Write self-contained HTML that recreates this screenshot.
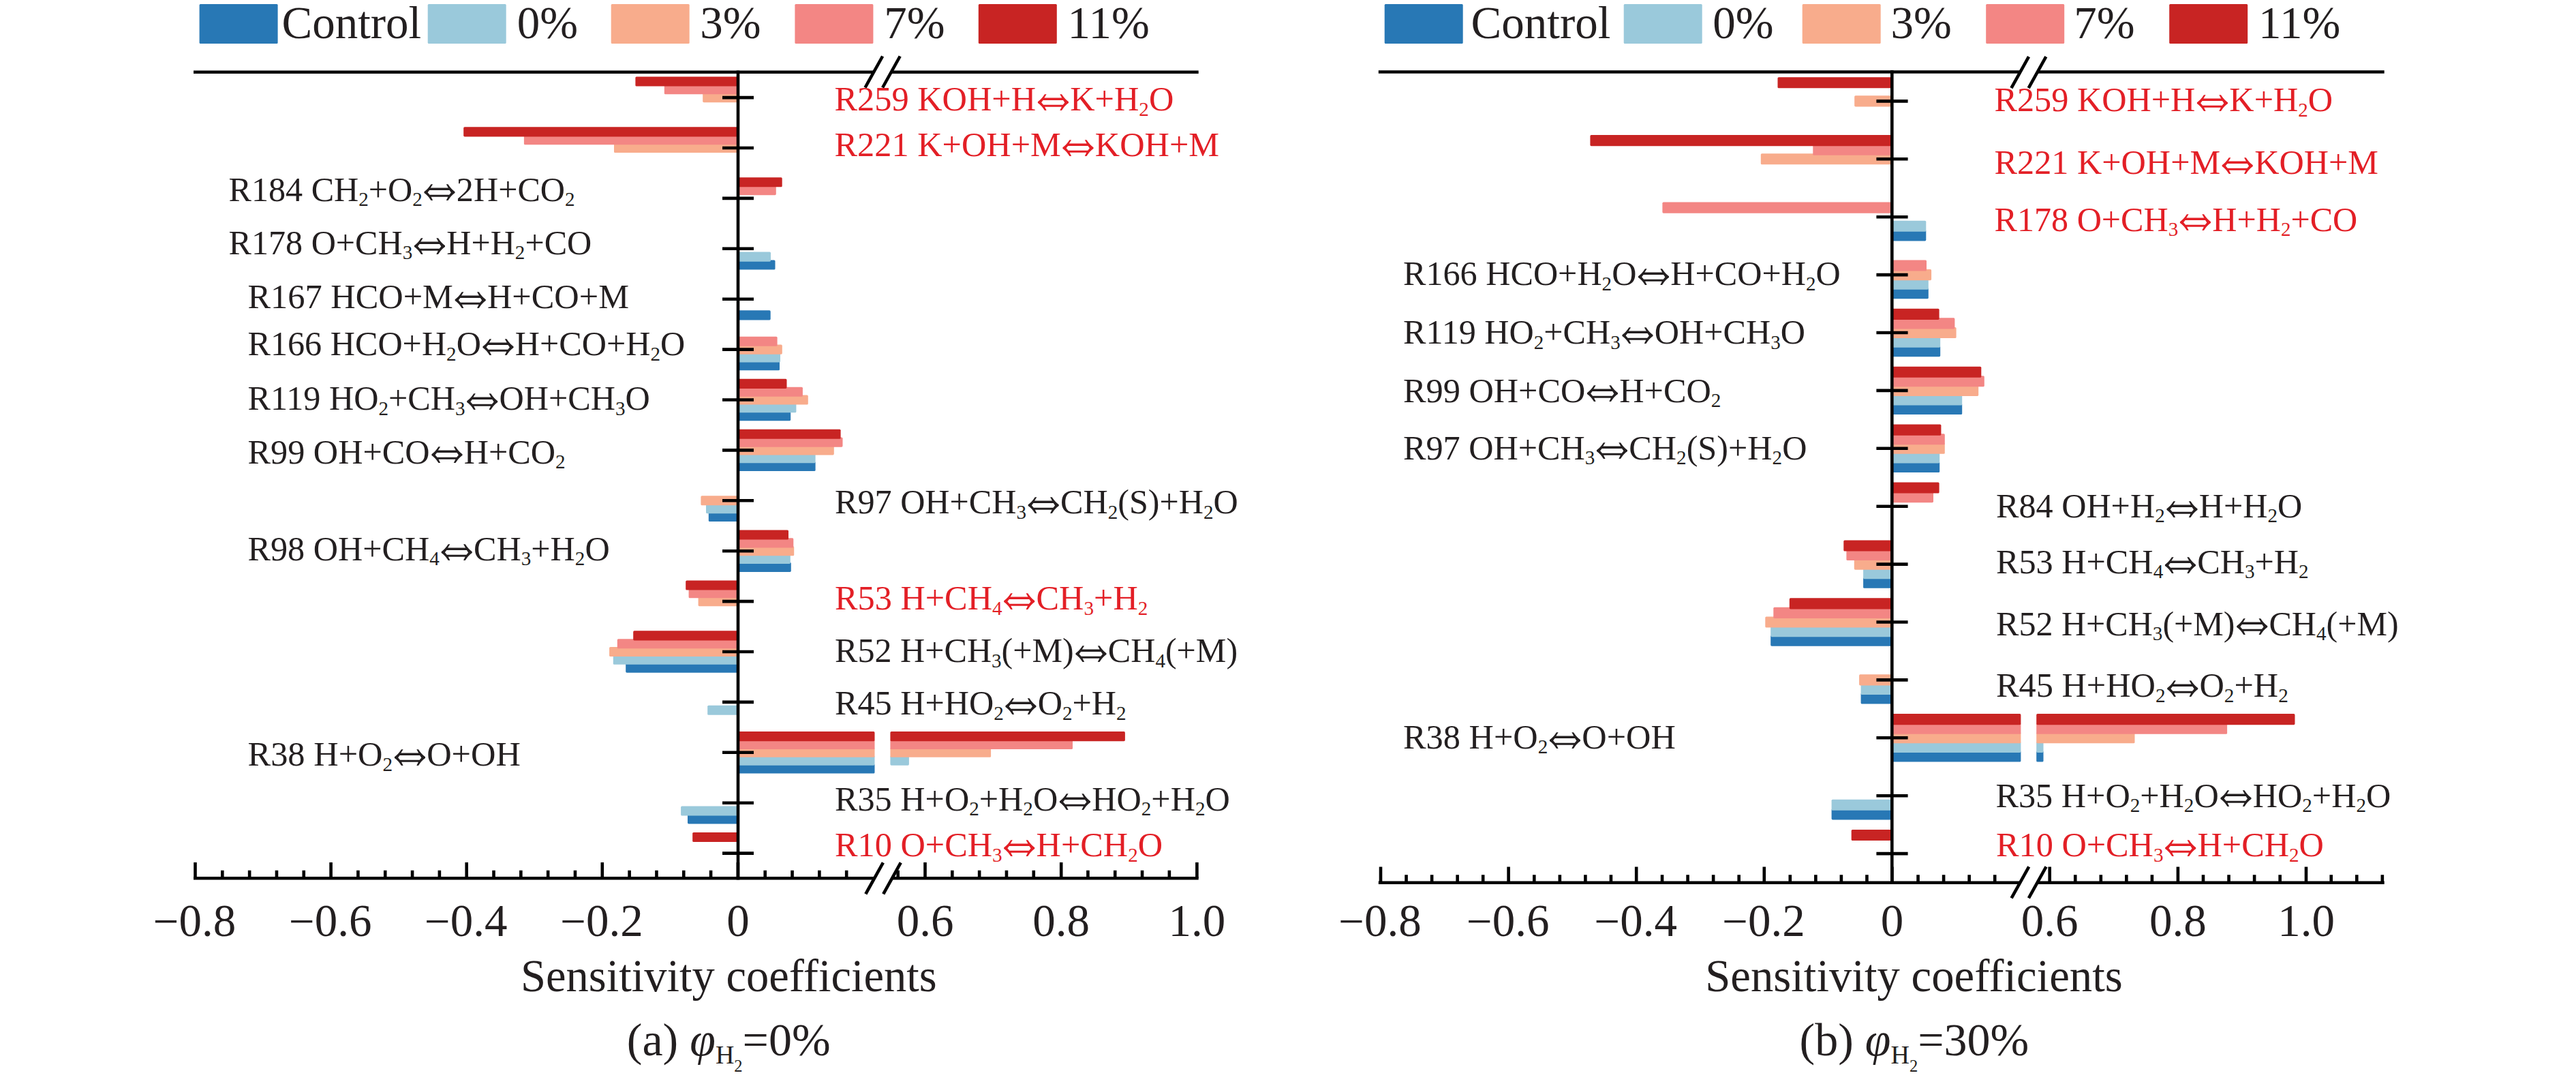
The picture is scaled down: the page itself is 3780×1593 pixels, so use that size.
<!DOCTYPE html>
<html lang="en"><head><meta charset="utf-8"><title>Sensitivity coefficients</title>
<style>
html,body{margin:0;padding:0;background:#fff}
svg{display:block;font-family:"Liberation Serif","DejaVu Serif",serif}
.s{font-size:29px}
</style></head><body>
<svg width="3780" height="1593" viewBox="0 0 3780 1593">
<rect width="3780" height="1593" fill="#fff"/>

<g font-size="67" fill="#231f20">
<rect x="292.6" y="6" width="115" height="58" rx="1.5" fill="#2878b5"/>
<text x="413.5" y="56">Control</text>
<rect x="627.7" y="6" width="115" height="58" rx="1.5" fill="#9ac9db"/>
<text x="758.8" y="56">0%</text>
<rect x="896.7" y="6" width="115" height="58" rx="1.5" fill="#f8ac8c"/>
<text x="1027.3" y="56">3%</text>
<rect x="1166.4" y="6" width="115" height="58" rx="1.5" fill="#f38684"/>
<text x="1297.2" y="56">7%</text>
<rect x="1435.8" y="6" width="115" height="58" rx="1.5" fill="#c82423"/>
<text x="1566.5" y="56">11%</text>
</g>
<g font-size="67" fill="#231f20">
<rect x="2031.7" y="6" width="115" height="58" rx="1.5" fill="#2878b5"/>
<text x="2158.6" y="56">Control</text>
<rect x="2382.7" y="6" width="115" height="58" rx="1.5" fill="#9ac9db"/>
<text x="2513.2" y="56">0%</text>
<rect x="2644.7" y="6" width="115" height="58" rx="1.5" fill="#f8ac8c"/>
<text x="2774.6" y="56">3%</text>
<rect x="2914.2" y="6" width="115" height="58" rx="1.5" fill="#f38684"/>
<text x="3043.2" y="56">7%</text>
<rect x="3183.2" y="6" width="115" height="58" rx="1.5" fill="#c82423"/>
<text x="3314" y="56">11%</text>
</g>
<g>
<rect x="1031.2" y="136.05" width="51.8" height="14.1" rx="1.6" fill="#f8ac8c"/>
<rect x="974.8" y="124.23" width="108.2" height="14.1" rx="1.6" fill="#f38684"/>
<rect x="932.4" y="112.41" width="150.6" height="14.1" rx="1.6" fill="#c82423"/>
<rect x="901" y="209.95" width="182" height="14.1" rx="1.6" fill="#f8ac8c"/>
<rect x="768.9" y="198.13" width="314.1" height="14.1" rx="1.6" fill="#f38684"/>
<rect x="680.2" y="186.31" width="402.8" height="14.1" rx="1.6" fill="#c82423"/>
<rect x="1083" y="272.03" width="55.8" height="14.1" rx="1.6" fill="#f38684"/>
<rect x="1083" y="260.21" width="64.7" height="14.1" rx="1.6" fill="#c82423"/>
<rect x="1083" y="381.39" width="54.5" height="14.1" rx="1.6" fill="#2878b5"/>
<rect x="1083" y="369.57" width="48" height="14.1" rx="1.6" fill="#9ac9db"/>
<rect x="1083" y="455.29" width="47.7" height="14.1" rx="1.6" fill="#2878b5"/>
<rect x="1083" y="529.19" width="61" height="14.1" rx="1.6" fill="#2878b5"/>
<rect x="1083" y="517.37" width="62" height="14.1" rx="1.6" fill="#9ac9db"/>
<rect x="1083" y="505.55" width="64.8" height="14.1" rx="1.6" fill="#f8ac8c"/>
<rect x="1083" y="493.73" width="57.6" height="14.1" rx="1.6" fill="#f38684"/>
<rect x="1083" y="603.09" width="77.2" height="14.1" rx="1.6" fill="#2878b5"/>
<rect x="1083" y="591.27" width="85.4" height="14.1" rx="1.6" fill="#9ac9db"/>
<rect x="1083" y="579.45" width="102.8" height="14.1" rx="1.6" fill="#f8ac8c"/>
<rect x="1083" y="567.63" width="94.9" height="14.1" rx="1.6" fill="#f38684"/>
<rect x="1083" y="555.81" width="71.5" height="14.1" rx="1.6" fill="#c82423"/>
<rect x="1083" y="676.99" width="113.6" height="14.1" rx="1.6" fill="#2878b5"/>
<rect x="1083" y="665.17" width="113.6" height="14.1" rx="1.6" fill="#9ac9db"/>
<rect x="1083" y="653.35" width="140.8" height="14.1" rx="1.6" fill="#f8ac8c"/>
<rect x="1083" y="641.53" width="153.5" height="14.1" rx="1.6" fill="#f38684"/>
<rect x="1083" y="629.71" width="150.6" height="14.1" rx="1.6" fill="#c82423"/>
<rect x="1039.8" y="750.89" width="43.2" height="14.1" rx="1.6" fill="#2878b5"/>
<rect x="1036" y="739.07" width="47" height="14.1" rx="1.6" fill="#9ac9db"/>
<rect x="1028.4" y="727.25" width="54.6" height="14.1" rx="1.6" fill="#f8ac8c"/>
<rect x="1083" y="824.79" width="77.8" height="14.1" rx="1.6" fill="#2878b5"/>
<rect x="1083" y="812.97" width="76.8" height="14.1" rx="1.6" fill="#9ac9db"/>
<rect x="1083" y="801.15" width="82.2" height="14.1" rx="1.6" fill="#f8ac8c"/>
<rect x="1083" y="789.33" width="81.3" height="14.1" rx="1.6" fill="#f38684"/>
<rect x="1083" y="777.51" width="74" height="14.1" rx="1.6" fill="#c82423"/>
<rect x="1024.6" y="875.05" width="58.4" height="14.1" rx="1.6" fill="#f8ac8c"/>
<rect x="1010.6" y="863.23" width="72.4" height="14.1" rx="1.6" fill="#f38684"/>
<rect x="1006.2" y="851.41" width="76.8" height="14.1" rx="1.6" fill="#c82423"/>
<rect x="918.2" y="972.59" width="164.8" height="14.1" rx="1.6" fill="#2878b5"/>
<rect x="899.8" y="960.77" width="183.2" height="14.1" rx="1.6" fill="#9ac9db"/>
<rect x="894.1" y="948.95" width="188.9" height="14.1" rx="1.6" fill="#f8ac8c"/>
<rect x="905.8" y="937.13" width="177.2" height="14.1" rx="1.6" fill="#f38684"/>
<rect x="929.2" y="925.31" width="153.8" height="14.1" rx="1.6" fill="#c82423"/>
<rect x="1038.2" y="1034.67" width="44.8" height="14.1" rx="1.6" fill="#9ac9db"/>
<rect x="1083" y="1120.39" width="200.5" height="14.1" rx="1.6" fill="#2878b5"/>
<rect x="1083" y="1108.57" width="200.5" height="14.1" rx="1.6" fill="#9ac9db"/>
<rect x="1306.4" y="1108.57" width="27.5" height="14.1" rx="1.6" fill="#9ac9db"/>
<rect x="1083" y="1096.75" width="200.5" height="14.1" rx="1.6" fill="#f8ac8c"/>
<rect x="1306.4" y="1096.75" width="147.7" height="14.1" rx="1.6" fill="#f8ac8c"/>
<rect x="1083" y="1084.93" width="200.5" height="14.1" rx="1.6" fill="#f38684"/>
<rect x="1306.4" y="1084.93" width="267.6" height="14.1" rx="1.6" fill="#f38684"/>
<rect x="1083" y="1073.11" width="200.5" height="14.1" rx="1.6" fill="#c82423"/>
<rect x="1306.4" y="1073.11" width="344.5" height="14.1" rx="1.6" fill="#c82423"/>
<rect x="1009" y="1194.29" width="74" height="14.1" rx="1.6" fill="#2878b5"/>
<rect x="999.1" y="1182.47" width="83.9" height="14.1" rx="1.6" fill="#9ac9db"/>
<rect x="1016.2" y="1220.91" width="66.8" height="14.1" rx="1.6" fill="#c82423"/>
</g>
<g stroke="#000000" stroke-width="4.6" fill="none">
<path d="M284 105.8H1282.3 M1307.9 105.8H1758.7"/>
<path d="M284 1288.3H1283.1 M1309 1288.3H1758.7"/>
<path d="M1083 103.4V1290.6"/>
<path d="M1060 143.1H1106 M1060 217H1106 M1060 290.9H1106 M1060 364.8H1106 M1060 438.7H1106 M1060 512.6H1106 M1060 586.5H1106 M1060 660.4H1106 M1060 734.3H1106 M1060 808.2H1106 M1060 882.1H1106 M1060 956H1106 M1060 1029.9H1106 M1060 1103.8H1106 M1060 1177.7H1106 M1060 1251.6H1106"/>
<path d="M286.5 1265V1288.3 M485.6 1265V1288.3 M684.7 1265V1288.3 M883.8 1265V1288.3 M1082.9 1265V1288.3 M1357.5 1265V1288.3 M1557.2 1265V1288.3 M1756.4 1265V1288.3"/>
<path d="M326.32 1276.7V1288.3 M366.14 1276.7V1288.3 M405.96 1276.7V1288.3 M445.78 1276.7V1288.3 M525.42 1276.7V1288.3 M565.24 1276.7V1288.3 M605.06 1276.7V1288.3 M644.88 1276.7V1288.3 M724.52 1276.7V1288.3 M764.34 1276.7V1288.3 M804.16 1276.7V1288.3 M843.98 1276.7V1288.3 M923.62 1276.7V1288.3 M963.44 1276.7V1288.3 M1003.26 1276.7V1288.3 M1043.08 1276.7V1288.3 M1122.72 1276.7V1288.3 M1162.54 1276.7V1288.3 M1202.36 1276.7V1288.3 M1242.18 1276.7V1288.3 M1317.68 1276.7V1288.3 M1397.32 1276.7V1288.3 M1437.14 1276.7V1288.3 M1476.96 1276.7V1288.3 M1516.78 1276.7V1288.3 M1596.42 1276.7V1288.3 M1636.24 1276.7V1288.3 M1676.06 1276.7V1288.3 M1715.88 1276.7V1288.3"/>
<path d="M1295.1 82.5L1269.5 128.5 M1320.7 82.5L1295.1 128.5 M1295.9 1265.3L1270.3 1311.3 M1321.8 1265.3L1296.2 1311.3"/>
</g>
<g font-size="67" fill="#231f20" text-anchor="middle">
<text x="285.6" y="1372.6"><tspan dy="1.2">−</tspan><tspan dy="-1.2">0.8</tspan></text>
<text x="484.7" y="1372.6"><tspan dy="1.2">−</tspan><tspan dy="-1.2">0.6</tspan></text>
<text x="683.8" y="1372.6"><tspan dy="1.2">−</tspan><tspan dy="-1.2">0.4</tspan></text>
<text x="882.9" y="1372.6"><tspan dy="1.2">−</tspan><tspan dy="-1.2">0.2</tspan></text>
<text x="1082.9" y="1372.6">0</text>
<text x="1357.5" y="1372.6">0.6</text>
<text x="1557.2" y="1372.6">0.8</text>
<text x="1756.4" y="1372.6">1.0</text>
</g>
<g>
<rect x="2721.2" y="140.35" width="55.1" height="16.1" rx="1.6" fill="#f8ac8c"/>
<rect x="2608.5" y="113.19" width="167.8" height="16.1" rx="1.6" fill="#c82423"/>
<rect x="2583.8" y="225.25" width="192.5" height="16.1" rx="1.6" fill="#f8ac8c"/>
<rect x="2660.3" y="211.67" width="116" height="16.1" rx="1.6" fill="#f38684"/>
<rect x="2333.4" y="198.09" width="442.9" height="16.1" rx="1.6" fill="#c82423"/>
<rect x="2776.3" y="337.31" width="50" height="16.1" rx="1.6" fill="#2878b5"/>
<rect x="2776.3" y="323.73" width="50" height="16.1" rx="1.6" fill="#9ac9db"/>
<rect x="2439.4" y="296.57" width="336.9" height="16.1" rx="1.6" fill="#f38684"/>
<rect x="2776.3" y="422.21" width="53.5" height="16.1" rx="1.6" fill="#2878b5"/>
<rect x="2776.3" y="408.63" width="53.5" height="16.1" rx="1.6" fill="#9ac9db"/>
<rect x="2776.3" y="395.05" width="57.8" height="16.1" rx="1.6" fill="#f8ac8c"/>
<rect x="2776.3" y="381.47" width="50.7" height="16.1" rx="1.6" fill="#f38684"/>
<rect x="2776.3" y="507.11" width="70.9" height="16.1" rx="1.6" fill="#2878b5"/>
<rect x="2776.3" y="493.53" width="70.9" height="16.1" rx="1.6" fill="#9ac9db"/>
<rect x="2776.3" y="479.95" width="94.3" height="16.1" rx="1.6" fill="#f8ac8c"/>
<rect x="2776.3" y="466.37" width="92.1" height="16.1" rx="1.6" fill="#f38684"/>
<rect x="2776.3" y="452.79" width="69.3" height="16.1" rx="1.6" fill="#c82423"/>
<rect x="2776.3" y="592.01" width="102.9" height="16.1" rx="1.6" fill="#2878b5"/>
<rect x="2776.3" y="578.43" width="102.9" height="16.1" rx="1.6" fill="#9ac9db"/>
<rect x="2776.3" y="564.85" width="126.9" height="16.1" rx="1.6" fill="#f8ac8c"/>
<rect x="2776.3" y="551.27" width="135.5" height="16.1" rx="1.6" fill="#f38684"/>
<rect x="2776.3" y="537.69" width="131" height="16.1" rx="1.6" fill="#c82423"/>
<rect x="2776.3" y="676.91" width="69.9" height="16.1" rx="1.6" fill="#2878b5"/>
<rect x="2776.3" y="663.33" width="69.9" height="16.1" rx="1.6" fill="#9ac9db"/>
<rect x="2776.3" y="649.75" width="77.5" height="16.1" rx="1.6" fill="#f8ac8c"/>
<rect x="2776.3" y="636.17" width="77.5" height="16.1" rx="1.6" fill="#f38684"/>
<rect x="2776.3" y="622.59" width="72.1" height="16.1" rx="1.6" fill="#c82423"/>
<rect x="2776.3" y="721.07" width="60.7" height="16.1" rx="1.6" fill="#f38684"/>
<rect x="2776.3" y="707.49" width="69.3" height="16.1" rx="1.6" fill="#c82423"/>
<rect x="2734.1" y="846.71" width="42.2" height="16.1" rx="1.6" fill="#2878b5"/>
<rect x="2734.1" y="833.13" width="42.2" height="16.1" rx="1.6" fill="#9ac9db"/>
<rect x="2720.8" y="819.55" width="55.5" height="16.1" rx="1.6" fill="#f8ac8c"/>
<rect x="2709.4" y="805.97" width="66.9" height="16.1" rx="1.6" fill="#f38684"/>
<rect x="2705.3" y="792.39" width="71" height="16.1" rx="1.6" fill="#c82423"/>
<rect x="2598.2" y="931.61" width="178.1" height="16.1" rx="1.6" fill="#2878b5"/>
<rect x="2598.2" y="918.03" width="178.1" height="16.1" rx="1.6" fill="#9ac9db"/>
<rect x="2590.3" y="904.45" width="186" height="16.1" rx="1.6" fill="#f8ac8c"/>
<rect x="2602.3" y="890.87" width="174" height="16.1" rx="1.6" fill="#f38684"/>
<rect x="2625.8" y="877.29" width="150.5" height="16.1" rx="1.6" fill="#c82423"/>
<rect x="2730.6" y="1016.51" width="45.7" height="16.1" rx="1.6" fill="#2878b5"/>
<rect x="2730.6" y="1002.93" width="45.7" height="16.1" rx="1.6" fill="#9ac9db"/>
<rect x="2728.1" y="989.35" width="48.2" height="16.1" rx="1.6" fill="#f8ac8c"/>
<rect x="2776.3" y="1101.41" width="189.1" height="16.1" rx="1.6" fill="#2878b5"/>
<rect x="2988.2" y="1101.41" width="10.3" height="16.1" rx="1.6" fill="#2878b5"/>
<rect x="2776.3" y="1087.83" width="189.1" height="16.1" rx="1.6" fill="#9ac9db"/>
<rect x="2988.2" y="1087.83" width="10.3" height="16.1" rx="1.6" fill="#9ac9db"/>
<rect x="2776.3" y="1074.25" width="189.1" height="16.1" rx="1.6" fill="#f8ac8c"/>
<rect x="2988.2" y="1074.25" width="144.3" height="16.1" rx="1.6" fill="#f8ac8c"/>
<rect x="2776.3" y="1060.67" width="189.1" height="16.1" rx="1.6" fill="#f38684"/>
<rect x="2988.2" y="1060.67" width="279.9" height="16.1" rx="1.6" fill="#f38684"/>
<rect x="2776.3" y="1047.09" width="189.1" height="16.1" rx="1.6" fill="#c82423"/>
<rect x="2988.2" y="1047.09" width="379.3" height="16.1" rx="1.6" fill="#c82423"/>
<rect x="2687.6" y="1186.31" width="88.7" height="16.1" rx="1.6" fill="#2878b5"/>
<rect x="2687.6" y="1172.73" width="88.7" height="16.1" rx="1.6" fill="#9ac9db"/>
<rect x="2716.7" y="1216.89" width="59.6" height="16.1" rx="1.6" fill="#c82423"/>
</g>
<g stroke="#000000" stroke-width="4.6" fill="none">
<path d="M2022.8 105.5H2964.2 M2989.5 105.5H3498.7"/>
<path d="M2022.8 1294.8H2964.4 M2989.7 1294.8H3498.7"/>
<path d="M2776.3 103.1V1297.1"/>
<path d="M2753.4 148.4H2799.6 M2753.4 233.3H2799.6 M2753.4 318.2H2799.6 M2753.4 403.1H2799.6 M2753.4 488H2799.6 M2753.4 572.9H2799.6 M2753.4 657.8H2799.6 M2753.4 742.7H2799.6 M2753.4 827.6H2799.6 M2753.4 912.5H2799.6 M2753.4 997.4H2799.6 M2753.4 1082.3H2799.6 M2753.4 1167.2H2799.6 M2753.4 1252.1H2799.6"/>
<path d="M2026 1271.6V1294.8 M2213.6 1271.6V1294.8 M2401.2 1271.6V1294.8 M2588.8 1271.6V1294.8 M2776.4 1271.6V1294.8 M3007.7 1271.6V1294.8 M3195.9 1271.6V1294.8 M3384 1271.6V1294.8"/>
<path d="M2063.55 1283.2V1294.8 M2101.1 1283.2V1294.8 M2138.65 1283.2V1294.8 M2176.2 1283.2V1294.8 M2251.3 1283.2V1294.8 M2288.85 1283.2V1294.8 M2326.4 1283.2V1294.8 M2363.95 1283.2V1294.8 M2439.05 1283.2V1294.8 M2476.6 1283.2V1294.8 M2514.15 1283.2V1294.8 M2551.7 1283.2V1294.8 M2626.8 1283.2V1294.8 M2664.35 1283.2V1294.8 M2701.9 1283.2V1294.8 M2739.45 1283.2V1294.8 M2814.55 1283.2V1294.8 M2852.1 1283.2V1294.8 M2889.65 1283.2V1294.8 M2927.2 1283.2V1294.8 M3045.25 1283.2V1294.8 M3082.8 1283.2V1294.8 M3120.35 1283.2V1294.8 M3157.9 1283.2V1294.8 M3233 1283.2V1294.8 M3270.55 1283.2V1294.8 M3308.1 1283.2V1294.8 M3345.65 1283.2V1294.8 M3420.75 1283.2V1294.8 M3458.3 1283.2V1294.8 M3495.85 1283.2V1294.8"/>
<path d="M2977 83.1L2951.4 129.1 M3002.3 83.1L2976.7 129.1 M2977.2 1271.3L2951.6 1317.3 M3002.5 1271.3L2976.9 1317.3"/>
</g>
<g font-size="67" fill="#231f20" text-anchor="middle">
<text x="2025.1" y="1372.6"><tspan dy="1.2">−</tspan><tspan dy="-1.2">0.8</tspan></text>
<text x="2212.7" y="1372.6"><tspan dy="1.2">−</tspan><tspan dy="-1.2">0.6</tspan></text>
<text x="2400.3" y="1372.6"><tspan dy="1.2">−</tspan><tspan dy="-1.2">0.4</tspan></text>
<text x="2587.9" y="1372.6"><tspan dy="1.2">−</tspan><tspan dy="-1.2">0.2</tspan></text>
<text x="2776.4" y="1372.6">0</text>
<text x="3007.7" y="1372.6">0.6</text>
<text x="3195.9" y="1372.6">0.8</text>
<text x="3384" y="1372.6">1.0</text>
</g>
<g font-size="50">
<g fill="#e31f26"><text x="1224.5" y="162" textLength="295.65" lengthAdjust="spacingAndGlyphs">R259 KOH+H</text><text transform="translate(1507.38 172.8) scale(0.763 1)" font-size="100">⇔</text><text x="1570.15" y="162" textLength="152.15" lengthAdjust="spacingAndGlyphs">K+H<tspan class="s" dy="7.6">2</tspan><tspan dy="-7.6">O</tspan></text></g>
<g fill="#e31f26"><text x="1224.5" y="229" textLength="332.35" lengthAdjust="spacingAndGlyphs">R221 K+OH+M</text><text transform="translate(1544.08 239.8) scale(0.763 1)" font-size="100">⇔</text><text x="1606.85" y="229" textLength="182.25" lengthAdjust="spacingAndGlyphs">KOH+M</text></g>
<g fill="#231f20"><text x="335.5" y="294.5" textLength="284.38" lengthAdjust="spacingAndGlyphs">R184 CH<tspan class="s" dy="7.6">2</tspan><tspan dy="-7.6">+O</tspan><tspan class="s" dy="7.6">2</tspan></text><text transform="translate(607.11 305.3) scale(0.763 1)" font-size="100">⇔</text><text x="669.88" y="294.5" textLength="173.72" lengthAdjust="spacingAndGlyphs">2H+CO<tspan class="s" dy="7.6">2</tspan></text></g>
<g fill="#231f20"><text x="335.5" y="372.8" textLength="269.74" lengthAdjust="spacingAndGlyphs">R178 O+CH<tspan class="s" dy="7.6">3</tspan></text><text transform="translate(592.47 383.6) scale(0.763 1)" font-size="100">⇔</text><text x="655.24" y="372.8" textLength="213.06" lengthAdjust="spacingAndGlyphs">H+H<tspan class="s" dy="7.6">2</tspan><tspan dy="-7.6">+CO</tspan></text></g>
<g fill="#231f20"><text x="363.5" y="452.4" textLength="301.44" lengthAdjust="spacingAndGlyphs">R167 HCO+M</text><text transform="translate(652.18 463.2) scale(0.763 1)" font-size="100">⇔</text><text x="714.94" y="452.4" textLength="208.06" lengthAdjust="spacingAndGlyphs">H+CO+M</text></g>
<g fill="#231f20"><text x="363.5" y="521" textLength="342.37" lengthAdjust="spacingAndGlyphs">R166 HCO+H<tspan class="s" dy="7.6">2</tspan><tspan dy="-7.6">O</tspan></text><text transform="translate(693.1 531.8) scale(0.763 1)" font-size="100">⇔</text><text x="755.87" y="521" textLength="249.43" lengthAdjust="spacingAndGlyphs">H+CO+H<tspan class="s" dy="7.6">2</tspan><tspan dy="-7.6">O</tspan></text></g>
<g fill="#231f20"><text x="363.5" y="601" textLength="319.02" lengthAdjust="spacingAndGlyphs">R119 HO<tspan class="s" dy="7.6">2</tspan><tspan dy="-7.6">+CH</tspan><tspan class="s" dy="7.6">3</tspan></text><text transform="translate(669.75 611.8) scale(0.763 1)" font-size="100">⇔</text><text x="732.52" y="601" textLength="221.28" lengthAdjust="spacingAndGlyphs">OH+CH<tspan class="s" dy="7.6">3</tspan><tspan dy="-7.6">O</tspan></text></g>
<g fill="#231f20"><text x="363.5" y="679.6" textLength="267.15" lengthAdjust="spacingAndGlyphs">R99 OH+CO</text><text transform="translate(617.88 690.4) scale(0.763 1)" font-size="100">⇔</text><text x="680.65" y="679.6" textLength="149.05" lengthAdjust="spacingAndGlyphs">H+CO<tspan class="s" dy="7.6">2</tspan></text></g>
<g fill="#231f20"><text x="1225" y="753.4" textLength="281.05" lengthAdjust="spacingAndGlyphs">R97 OH+CH<tspan class="s" dy="7.6">3</tspan></text><text transform="translate(1493.28 764.2) scale(0.763 1)" font-size="100">⇔</text><text x="1556.05" y="753.4" textLength="260.75" lengthAdjust="spacingAndGlyphs">CH<tspan class="s" dy="7.6">2</tspan><tspan dy="-7.6">(S)+H</tspan><tspan class="s" dy="7.6">2</tspan><tspan dy="-7.6">O</tspan></text></g>
<g fill="#231f20"><text x="363.5" y="821.8" textLength="281.45" lengthAdjust="spacingAndGlyphs">R98 OH+CH<tspan class="s" dy="7.6">4</tspan></text><text transform="translate(632.18 832.6) scale(0.763 1)" font-size="100">⇔</text><text x="694.95" y="821.8" textLength="199.75" lengthAdjust="spacingAndGlyphs">CH<tspan class="s" dy="7.6">3</tspan><tspan dy="-7.6">+H</tspan><tspan class="s" dy="7.6">2</tspan><tspan dy="-7.6">O</tspan></text></g>
<g fill="#e31f26"><text x="1225" y="894" textLength="245.56" lengthAdjust="spacingAndGlyphs">R53 H+CH<tspan class="s" dy="7.6">4</tspan></text><text transform="translate(1457.79 904.8) scale(0.763 1)" font-size="100">⇔</text><text x="1520.56" y="894" textLength="163.74" lengthAdjust="spacingAndGlyphs">CH<tspan class="s" dy="7.6">3</tspan><tspan dy="-7.6">+H</tspan><tspan class="s" dy="7.6">2</tspan></text></g>
<g fill="#231f20"><text x="1225" y="971" textLength="350.79" lengthAdjust="spacingAndGlyphs">R52 H+CH<tspan class="s" dy="7.6">3</tspan><tspan dy="-7.6">(+M)</tspan></text><text transform="translate(1563.02 981.8) scale(0.763 1)" font-size="100">⇔</text><text x="1625.79" y="971" textLength="190.31" lengthAdjust="spacingAndGlyphs">CH<tspan class="s" dy="7.6">4</tspan><tspan dy="-7.6">(+M)</tspan></text></g>
<g fill="#231f20"><text x="1225" y="1048.2" textLength="247.73" lengthAdjust="spacingAndGlyphs">R45 H+HO<tspan class="s" dy="7.6">2</tspan></text><text transform="translate(1459.96 1059) scale(0.763 1)" font-size="100">⇔</text><text x="1522.73" y="1048.2" textLength="129.87" lengthAdjust="spacingAndGlyphs">O<tspan class="s" dy="7.6">2</tspan><tspan dy="-7.6">+H</tspan><tspan class="s" dy="7.6">2</tspan></text></g>
<g fill="#231f20"><text x="363.5" y="1123.4" textLength="212.65" lengthAdjust="spacingAndGlyphs">R38 H+O<tspan class="s" dy="7.6">2</tspan></text><text transform="translate(563.38 1134.2) scale(0.763 1)" font-size="100">⇔</text><text x="626.15" y="1123.4" textLength="137.75" lengthAdjust="spacingAndGlyphs">O+OH</text></g>
<g fill="#231f20"><text x="1225" y="1188.6" textLength="327.21" lengthAdjust="spacingAndGlyphs">R35 H+O<tspan class="s" dy="7.6">2</tspan><tspan dy="-7.6">+H</tspan><tspan class="s" dy="7.6">2</tspan><tspan dy="-7.6">O</tspan></text><text transform="translate(1539.45 1199.4) scale(0.763 1)" font-size="100">⇔</text><text x="1602.21" y="1188.6" textLength="202.59" lengthAdjust="spacingAndGlyphs">HO<tspan class="s" dy="7.6">2</tspan><tspan dy="-7.6">+H</tspan><tspan class="s" dy="7.6">2</tspan><tspan dy="-7.6">O</tspan></text></g>
<g fill="#e31f26"><text x="1225" y="1256" textLength="245.61" lengthAdjust="spacingAndGlyphs">R10 O+CH<tspan class="s" dy="7.6">3</tspan></text><text transform="translate(1457.84 1266.8) scale(0.763 1)" font-size="100">⇔</text><text x="1520.61" y="1256" textLength="185.49" lengthAdjust="spacingAndGlyphs">H+CH<tspan class="s" dy="7.6">2</tspan><tspan dy="-7.6">O</tspan></text></g>
<g fill="#e31f26"><text x="2926.5" y="163" textLength="294.86" lengthAdjust="spacingAndGlyphs">R259 KOH+H</text><text transform="translate(3208.59 173.8) scale(0.763 1)" font-size="100">⇔</text><text x="3271.36" y="163" textLength="151.74" lengthAdjust="spacingAndGlyphs">K+H<tspan class="s" dy="7.6">2</tspan><tspan dy="-7.6">O</tspan></text></g>
<g fill="#e31f26"><text x="2926.5" y="255.4" textLength="331.64" lengthAdjust="spacingAndGlyphs">R221 K+OH+M</text><text transform="translate(3245.37 266.2) scale(0.763 1)" font-size="100">⇔</text><text x="3308.14" y="255.4" textLength="181.86" lengthAdjust="spacingAndGlyphs">KOH+M</text></g>
<g fill="#e31f26"><text x="2926.5" y="338.6" textLength="269.74" lengthAdjust="spacingAndGlyphs">R178 O+CH<tspan class="s" dy="7.6">3</tspan></text><text transform="translate(3183.47 349.4) scale(0.763 1)" font-size="100">⇔</text><text x="3246.24" y="338.6" textLength="213.06" lengthAdjust="spacingAndGlyphs">H+H<tspan class="s" dy="7.6">2</tspan><tspan dy="-7.6">+CO</tspan></text></g>
<g fill="#231f20"><text x="2059" y="418" textLength="342.37" lengthAdjust="spacingAndGlyphs">R166 HCO+H<tspan class="s" dy="7.6">2</tspan><tspan dy="-7.6">O</tspan></text><text transform="translate(2388.6 428.8) scale(0.763 1)" font-size="100">⇔</text><text x="2451.37" y="418" textLength="249.43" lengthAdjust="spacingAndGlyphs">H+CO+H<tspan class="s" dy="7.6">2</tspan><tspan dy="-7.6">O</tspan></text></g>
<g fill="#231f20"><text x="2059" y="504" textLength="318.84" lengthAdjust="spacingAndGlyphs">R119 HO<tspan class="s" dy="7.6">2</tspan><tspan dy="-7.6">+CH</tspan><tspan class="s" dy="7.6">3</tspan></text><text transform="translate(2365.08 514.8) scale(0.763 1)" font-size="100">⇔</text><text x="2427.84" y="504" textLength="221.16" lengthAdjust="spacingAndGlyphs">OH+CH<tspan class="s" dy="7.6">3</tspan><tspan dy="-7.6">O</tspan></text></g>
<g fill="#231f20"><text x="2059" y="589.5" textLength="267.27" lengthAdjust="spacingAndGlyphs">R99 OH+CO</text><text transform="translate(2313.51 600.3) scale(0.763 1)" font-size="100">⇔</text><text x="2376.27" y="589.5" textLength="149.13" lengthAdjust="spacingAndGlyphs">H+CO<tspan class="s" dy="7.6">2</tspan></text></g>
<g fill="#231f20"><text x="2059" y="673.6" textLength="281.36" lengthAdjust="spacingAndGlyphs">R97 OH+CH<tspan class="s" dy="7.6">3</tspan></text><text transform="translate(2327.59 684.4) scale(0.763 1)" font-size="100">⇔</text><text x="2390.36" y="673.6" textLength="261.04" lengthAdjust="spacingAndGlyphs">CH<tspan class="s" dy="7.6">2</tspan><tspan dy="-7.6">(S)+H</tspan><tspan class="s" dy="7.6">2</tspan><tspan dy="-7.6">O</tspan></text></g>
<g fill="#231f20"><text x="2929" y="758.8" textLength="247.68" lengthAdjust="spacingAndGlyphs">R84 OH+H<tspan class="s" dy="7.6">2</tspan></text><text transform="translate(3163.91 769.6) scale(0.763 1)" font-size="100">⇔</text><text x="3226.68" y="758.8" textLength="151.52" lengthAdjust="spacingAndGlyphs">H+H<tspan class="s" dy="7.6">2</tspan><tspan dy="-7.6">O</tspan></text></g>
<g fill="#231f20"><text x="2929" y="840.8" textLength="245.2" lengthAdjust="spacingAndGlyphs">R53 H+CH<tspan class="s" dy="7.6">4</tspan></text><text transform="translate(3161.43 851.6) scale(0.763 1)" font-size="100">⇔</text><text x="3224.2" y="840.8" textLength="163.5" lengthAdjust="spacingAndGlyphs">CH<tspan class="s" dy="7.6">3</tspan><tspan dy="-7.6">+H</tspan><tspan class="s" dy="7.6">2</tspan></text></g>
<g fill="#231f20"><text x="2929" y="931.5" textLength="350.46" lengthAdjust="spacingAndGlyphs">R52 H+CH<tspan class="s" dy="7.6">3</tspan><tspan dy="-7.6">(+M)</tspan></text><text transform="translate(3266.69 942.3) scale(0.763 1)" font-size="100">⇔</text><text x="3329.46" y="931.5" textLength="190.14" lengthAdjust="spacingAndGlyphs">CH<tspan class="s" dy="7.6">4</tspan><tspan dy="-7.6">(+M)</tspan></text></g>
<g fill="#231f20"><text x="2929" y="1022.3" textLength="248.52" lengthAdjust="spacingAndGlyphs">R45 H+HO<tspan class="s" dy="7.6">2</tspan></text><text transform="translate(3164.75 1033.1) scale(0.763 1)" font-size="100">⇔</text><text x="3227.52" y="1022.3" textLength="130.28" lengthAdjust="spacingAndGlyphs">O<tspan class="s" dy="7.6">2</tspan><tspan dy="-7.6">+H</tspan><tspan class="s" dy="7.6">2</tspan></text></g>
<g fill="#231f20"><text x="2059" y="1097.8" textLength="212.28" lengthAdjust="spacingAndGlyphs">R38 H+O<tspan class="s" dy="7.6">2</tspan></text><text transform="translate(2258.52 1108.6) scale(0.763 1)" font-size="100">⇔</text><text x="2321.28" y="1097.8" textLength="137.52" lengthAdjust="spacingAndGlyphs">O+OH</text></g>
<g fill="#231f20"><text x="2928.5" y="1183.5" textLength="327.21" lengthAdjust="spacingAndGlyphs">R35 H+O<tspan class="s" dy="7.6">2</tspan><tspan dy="-7.6">+H</tspan><tspan class="s" dy="7.6">2</tspan><tspan dy="-7.6">O</tspan></text><text transform="translate(3242.95 1194.3) scale(0.763 1)" font-size="100">⇔</text><text x="3305.71" y="1183.5" textLength="202.59" lengthAdjust="spacingAndGlyphs">HO<tspan class="s" dy="7.6">2</tspan><tspan dy="-7.6">+H</tspan><tspan class="s" dy="7.6">2</tspan><tspan dy="-7.6">O</tspan></text></g>
<g fill="#e31f26"><text x="2929" y="1256.2" textLength="245.49" lengthAdjust="spacingAndGlyphs">R10 O+CH<tspan class="s" dy="7.6">3</tspan></text><text transform="translate(3161.72 1267) scale(0.763 1)" font-size="100">⇔</text><text x="3224.49" y="1256.2" textLength="185.41" lengthAdjust="spacingAndGlyphs">H+CH<tspan class="s" dy="7.6">2</tspan><tspan dy="-7.6">O</tspan></text></g>
</g>
<g font-size="67" fill="#231f20">
<text x="764" y="1454.3" textLength="610.7" lengthAdjust="spacingAndGlyphs">Sensitivity coefficients</text>
<text x="2502.2" y="1454.3" textLength="612.5" lengthAdjust="spacingAndGlyphs">Sensitivity coefficients</text>
</g>
<g font-size="68" fill="#231f20">
<text x="919.8" y="1548">(a) <tspan font-style="italic">φ</tspan><tspan font-size="38" dy="12.3">H</tspan><tspan font-size="24.5" dy="12">2</tspan><tspan dy="-24.3">=0%</tspan></text>
<text x="2640.5" y="1548">(b) <tspan font-style="italic">φ</tspan><tspan font-size="38" dy="12.3">H</tspan><tspan font-size="24.5" dy="12">2</tspan><tspan dy="-24.3">=30%</tspan></text>
</g>
</svg>
</body></html>
